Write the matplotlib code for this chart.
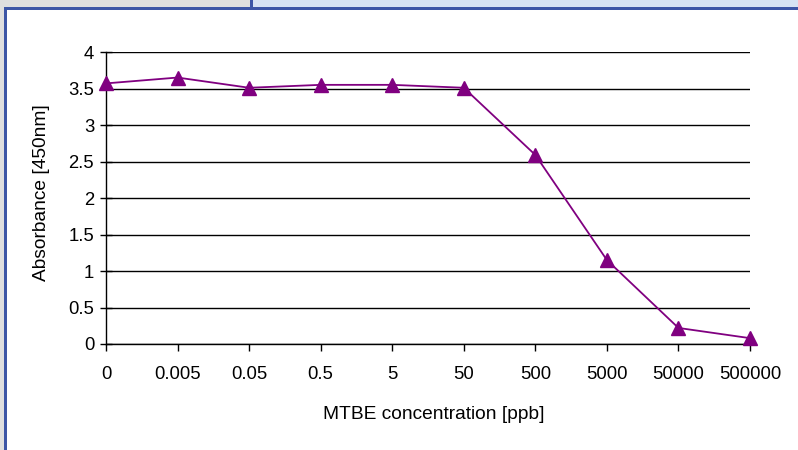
import matplotlib.pyplot as plt
from matplotlib.patches import Rectangle

plt.rcParams['font.family'] = ['Liberation Sans', 'DejaVu Sans']

# MTBE standard curve (absorbance at 450 nm)
concentrations = ["0", "0.005", "0.05", "0.5", "5", "50", "500", "5000", "50000", "500000"]
absorbance = [3.57, 3.65, 3.51, 3.55, 3.55, 3.51, 2.59, 1.15, 0.22, 0.08]
y_ticks = [0, 0.5, 1, 1.5, 2, 2.5, 3, 3.5, 4]

W, H = 798, 450
fig = plt.figure(figsize=(W / 100, H / 100), dpi=100)

# window frame around the chart
def px_rect(x0, y0, x1, y1, color):
    fig.patches.append(Rectangle((x0 / W, 1 - y1 / H), (x1 - x0) / W, (y1 - y0) / H,
                                 transform=fig.transFigure, color=color, lw=0, zorder=0))

px_rect(0, 0, 251, 8, "#dfdfdf")
px_rect(253, 0, W, 8, "#d7e3f3")
px_rect(0, 8, 4, H, "#dfdfdf")
px_rect(250, 0, 253, 9, "#3d56a6")
px_rect(4, 7, W, 10, "#3d56a6")
px_rect(4, 7, 7, H, "#3d56a6")

ax = fig.add_axes([106 / W, 1 - 344 / H, (750 - 106) / W, (344 - 52) / H])
x = list(range(len(concentrations)))
ax.plot(x, absorbance, color="#800080", lw=1.3, marker="^", markersize=10,
        clip_on=False, zorder=5)

ax.set_xlim(0, len(concentrations) - 1)
ax.set_ylim(0, 4)
ax.set_xticks(x)
ax.set_xticklabels(concentrations)
ax.set_yticks(y_ticks)
ax.set_yticklabels([f"{v:g}" for v in y_ticks])

ax.yaxis.grid(True, color="black", lw=1.0)
ax.set_axisbelow(True)
for s in ["top", "right"]:
    ax.spines[s].set_visible(False)
for s in ["left", "bottom"]:
    ax.spines[s].set_linewidth(1.0)

ax.tick_params(axis="x", direction="out", length=5, width=1, pad=11, labelsize=13.3)
ax.tick_params(axis="y", direction="inout", length=9, width=1, pad=4, labelsize=13.3)

ax.set_xlabel("MTBE concentration [ppb]", fontsize=13.8)
ax.set_ylabel("Absorbance [450nm]", fontsize=13.8)
ax.xaxis.set_label_coords(0.509, -0.212)
ax.yaxis.set_label_coords(-0.087, 0.52)

fig.savefig("out.png", dpi=100)
